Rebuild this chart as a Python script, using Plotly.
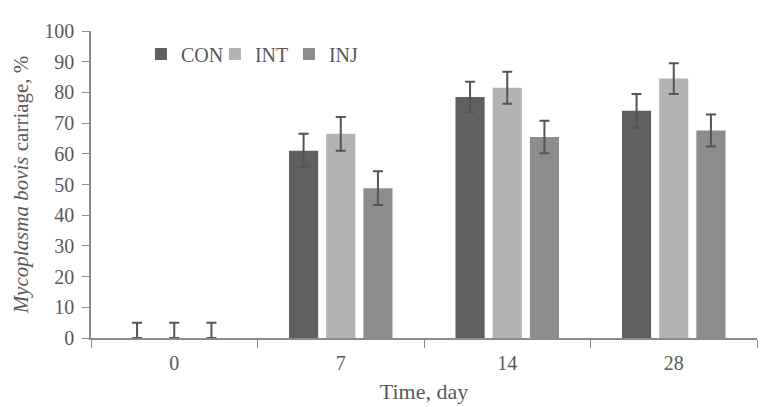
import plotly.graph_objects as go

days = ["0", "7", "14", "28"]
con = [0, 61, 78.5, 74]
intr = [0, 66.5, 81.5, 84.5]
inj = [0, 48.8, 65.5, 67.6]
con_err = [5, 5.5, 5, 5.5]
int_err = [5, 5.5, 5.2, 5]
inj_err = [5, 5.5, 5.3, 5.2]
con_err_minus = [0, 5.5, 5, 5.5]
int_err_minus = [0, 5.5, 5.2, 5]
inj_err_minus = [0, 5.5, 5.3, 5.2]

series = [
    ("CON", con, con_err, con_err_minus, "#606060"),
    ("INT", intr, int_err, int_err_minus, "#b3b3b3"),
    ("INJ", inj, inj_err, inj_err_minus, "#8c8c8c"),
]

fig = go.Figure()
for name, vals, ep, em, col in series:
    fig.add_trace(go.Bar(
        x=days, y=vals, name=name, marker=dict(color=col, line=dict(width=0)),
        error_y=dict(type="data", array=ep, arrayminus=em, symmetric=False,
                     color="#555555", thickness=2, width=5),
    ))

font_fam = "Liberation Serif, Times New Roman, serif"
fig.update_layout(
    width=768, height=407,
    margin=dict(l=82, r=19, t=19, b=77),
    paper_bgcolor="white", plot_bgcolor="white",
    barmode="group", bargap=0.33, bargroupgap=0.216,
    font=dict(family=font_fam, size=20, color="#595959"),
    showlegend=True,
    legend=dict(orientation="h", x=0.075, y=0.925, xanchor="left", yanchor="middle",
                font=dict(size=20, color="#595959"), itemwidth=30,
                entrywidth=29, bgcolor="rgba(0,0,0,0)"),
    xaxis=dict(
        type="category", showline=True, linecolor="#8c8c8c", linewidth=1.5,
        ticks="outside", tickson="boundaries", ticklen=8, tickcolor="#8c8c8c",
        tickfont=dict(size=20, color="#595959"), ticklabelstandoff=6,
        title=dict(text="Time, day", font=dict(size=22, color="#595959"), standoff=11),
        showgrid=False,
    ),
    yaxis=dict(
        range=[0, 100], dtick=10, showline=True, linecolor="#8c8c8c", linewidth=1.5,
        ticks="outside", ticklen=7, tickcolor="#8c8c8c", showgrid=False, zeroline=False,
        tickfont=dict(size=20, color="#595959"), ticklabelstandoff=4,
        title=dict(text="<i>Mycoplasma bovis</i> carriage, %", font=dict(size=21, color="#595959"), standoff=10),
    ),
)

fig.write_html("out.html")
